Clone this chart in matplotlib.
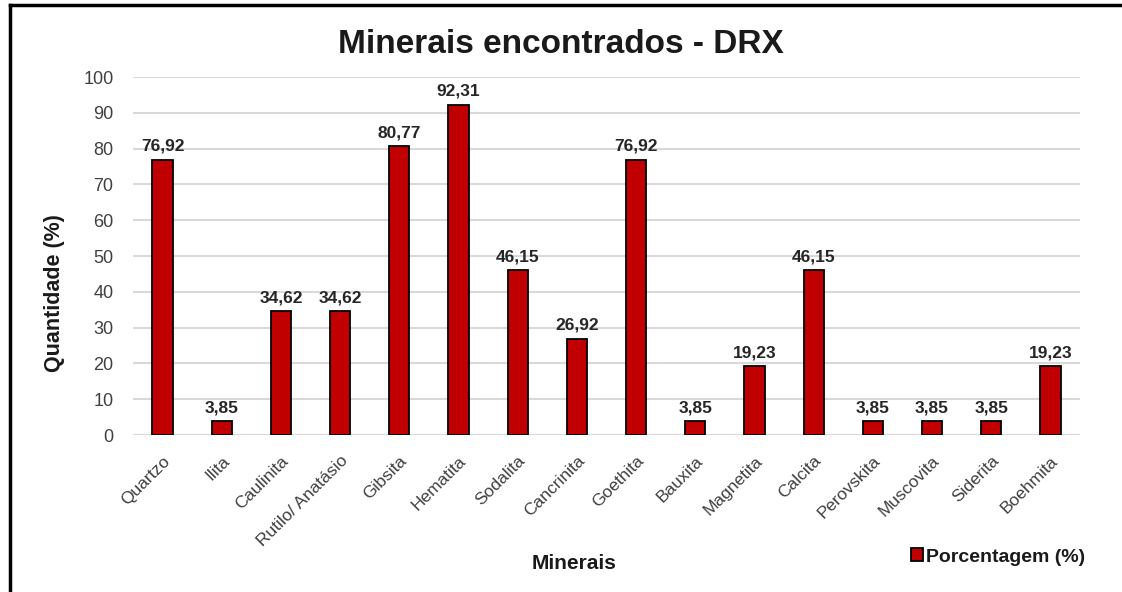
import matplotlib
matplotlib.use("Agg")
import matplotlib.pyplot as plt
from matplotlib.lines import Line2D
from matplotlib.transforms import ScaledTranslation

plt.rcParams['font.family'] = ['Liberation Sans', 'DejaVu Sans']

minerais = ["Quartzo", "Ilita", "Caulinita", "Rutilo/ Anatásio", "Gibsita", "Hematita",
            "Sodalita", "Cancrinita", "Goethita", "Bauxita", "Magnetita", "Calcita",
            "Perovskita", "Muscovita", "Siderita", "Boehmita"]
porcentagem = [76.92, 3.85, 34.62, 34.62, 80.77, 92.31, 46.15, 26.92, 76.92, 3.85,
               19.23, 46.15, 3.85, 3.85, 3.85, 19.23]
yticks = list(range(0, 101, 10))

fig = plt.figure(figsize=(11.22, 5.92), dpi=100)
ax = fig.add_axes([0.1185, 0.2652, 0.8441, 0.6047])

x = list(range(len(minerais)))
bars = ax.bar(x, porcentagem, width=0.34, color="#c00000", edgecolor="black",
              linewidth=1.3, zorder=3, label="Porcentagem (%)")
for xi, v in zip(x, porcentagem):
    ax.text(xi, v + 1.6, f"{v:.2f}".replace(".", ","), ha="center", va="bottom",
            fontsize=12.5, fontweight="bold", color="#262626", clip_on=False)

ax.set_xlim(-0.5, len(minerais) - 0.5)
ax.set_ylim(0, 100)
ax.set_yticks(yticks)
ax.set_yticklabels([str(t) for t in yticks], fontsize=13, color="#404040")
ax.set_xticks(x)
ax.set_xticklabels(minerais, rotation=45, ha="right", rotation_mode="anchor",
                   fontsize=12.5, color="#404040")
offset = ScaledTranslation(-6 / 100, 0, fig.dpi_scale_trans)
for lbl in ax.get_xticklabels():
    lbl.set_transform(lbl.get_transform() + offset)
ax.tick_params(axis="y", length=0, pad=14)
ax.tick_params(axis="x", length=0, pad=13)
ax.grid(axis="y", color="#d9d9d9", linewidth=1.5, zorder=0)
for s in ax.spines.values():
    s.set_visible(False)
ax.axhline(0, color="#d9d9d9", linewidth=1.5, zorder=1)

fig.text(0.5, 0.925, "Minerais encontrados - DRX", ha="center", va="center",
         fontsize=24, fontweight="bold", color="#1a1a1a")
fig.text(0.5116, 0.048, "Minerais", ha="center", va="center", fontsize=15,
         fontweight="bold", color="#1a1a1a")
fig.text(0.049, 0.505, "Quantidade (%)", ha="center", va="center", rotation=90,
         fontsize=15.5, fontweight="bold", color="#1a1a1a")

leg = fig.legend(handles=[bars], labels=["Porcentagem (%)"], loc="center",
                 bbox_to_anchor=(0.8895, 0.059), frameon=False,
                 prop={"weight": "bold", "size": 14}, handlelength=0.65,
                 handleheight=0.65, handletextpad=0.15)
for t in leg.get_texts():
    t.set_color("#1a1a1a")

# figure border (left and top)
fig.add_artist(Line2D([0.0085, 0.0085], [0.0, 0.992], transform=fig.transFigure,
                      color="black", linewidth=2.5))
fig.add_artist(Line2D([0.0085, 1.0], [0.992, 0.992], transform=fig.transFigure,
                      color="black", linewidth=2.5))

fig.savefig("out.png", dpi=100)
